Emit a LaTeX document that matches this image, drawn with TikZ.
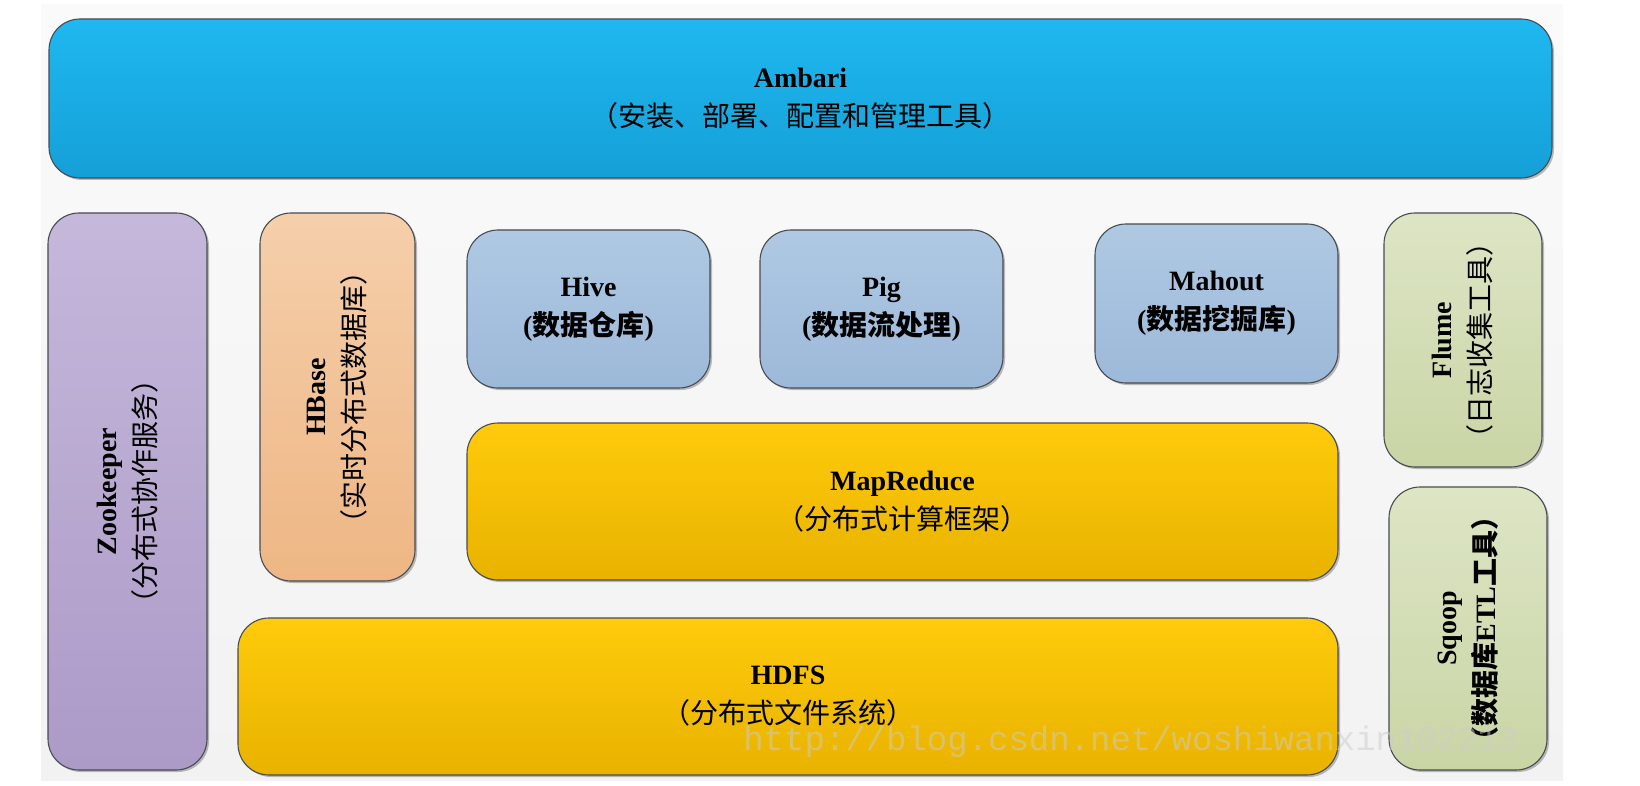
\documentclass[tikz,border=0pt]{standalone}
\usepackage{fontspec}
\setmainfont{Liberation Serif}
\setmonofont{Liberation Mono}
\newfontfamily\cjk{Noto Sans CJK SC}
\usetikzlibrary{shadows}
\definecolor{edge}{HTML}{474B52}
\definecolor{ambtop}{HTML}{1FB8F0}
\definecolor{ambbot}{HTML}{159FD7}
\definecolor{zkl}{HTML}{C5B8DB}
\definecolor{zkr}{HTML}{AC9AC7}
\definecolor{hbl}{HTML}{F5CFAB}
\definecolor{hbr}{HTML}{EEB684}
\definecolor{bltop}{HTML}{AFC9E3}
\definecolor{blbot}{HTML}{9DB9D9}
\definecolor{gdtop}{HTML}{FFCB0B}
\definecolor{gdbot}{HTML}{E8B200}
\definecolor{grl}{HTML}{DDE5C5}
\definecolor{grr}{HTML}{C9D5A5}
\definecolor{paneltop}{HTML}{FAFAFA}
\definecolor{panelbot}{HTML}{F2F2F2}

\begin{document}
\begin{tikzpicture}[x=1pt, y=-1pt,
    every node/.style={font=\fontsize{28}{39}\selectfont},
    lyr/.style={rectangle, rounded corners=31pt, draw=edge, line width=1.1pt,
                align=center, inner sep=0pt,
                drop shadow={shadow xshift=2pt, shadow yshift=-2pt,
                             opacity=0.25, fill=black}},
    amb/.style={lyr, top color=ambtop, bottom color=ambbot},
    gold/.style={lyr, top color=gdtop, bottom color=gdbot},
    tool/.style={lyr, top color=bltop, bottom color=blbot},
    % rotated boxes: the node's top faces left on the page
    zk/.style={lyr, rotate=90, top color=zkl, bottom color=zkr},
    hb/.style={lyr, rotate=90, top color=hbl, bottom color=hbr},
    side/.style={lyr, rotate=90, top color=grl, bottom color=grr},
    wmarktext/.style={font=\ttfamily\fontsize{34}{34}\selectfont, text=gray!40, opacity=0.5},
]
\useasboundingbox (0,0) rectangle (1640,786);
\shade[top color=paneltop, bottom color=panelbot] (41,5) rectangle (1563,780);

% top layer
\node[amb, minimum width=1503, minimum height=159] (ambari) at (800.5,98.5)
     {\bfseries Ambari\\\cjk （安装、部署、配置和管理工具）};

% left and right columns
\node[zk, minimum width=557, minimum height=159] (zookeeper) at (127.5,491.5)
     {\bfseries Zookeeper\\\cjk （分布式协作服务）};
\node[hb, minimum width=368, minimum height=155] (hbase) at (337.5,397)
     {\bfseries HBase\\\cjk （实时分布式数据库）};
\node[side, minimum width=254, minimum height=158] (flume) at (1463,340)
     {\bfseries Flume\\\cjk （日志收集工具）};
\node[side, minimum width=283, minimum height=158] (sqoop) at (1468,628.5)
     {\bfseries Sqoop\\{\cjk\bfseries （数据库}{\bfseries ETL}{\cjk\bfseries 工具）}};

% tools on top of MapReduce
\node[tool, minimum width=243, minimum height=158] (hive) at (588.5,309)
     {\bfseries Hive\\{\bfseries(}{\cjk\bfseries 数据仓库}{\bfseries)}};
\node[tool, minimum width=243, minimum height=158] (pig) at (881.5,309)
     {\bfseries Pig\\{\bfseries(}{\cjk\bfseries 数据流处理}{\bfseries)}};
\node[tool, minimum width=243, minimum height=159] (mahout) at (1216.5,303.5)
     {\bfseries Mahout\\{\bfseries(}{\cjk\bfseries 数据挖掘库}{\bfseries)}};

% core layers
\node[gold, minimum width=871, minimum height=157] (mapreduce) at (902.5,501.5)
     {\bfseries MapReduce\\\cjk （分布式计算框架）};
\node[gold, minimum width=1100, minimum height=157] (hdfs) at (788,696.5)
     {\bfseries HDFS\\\cjk （分布式文件系统）};

\node[wmarktext] (wmark) at (1131,742) {http://blog.csdn.net/woshiwanxin102213};
\end{tikzpicture}
\end{document}
